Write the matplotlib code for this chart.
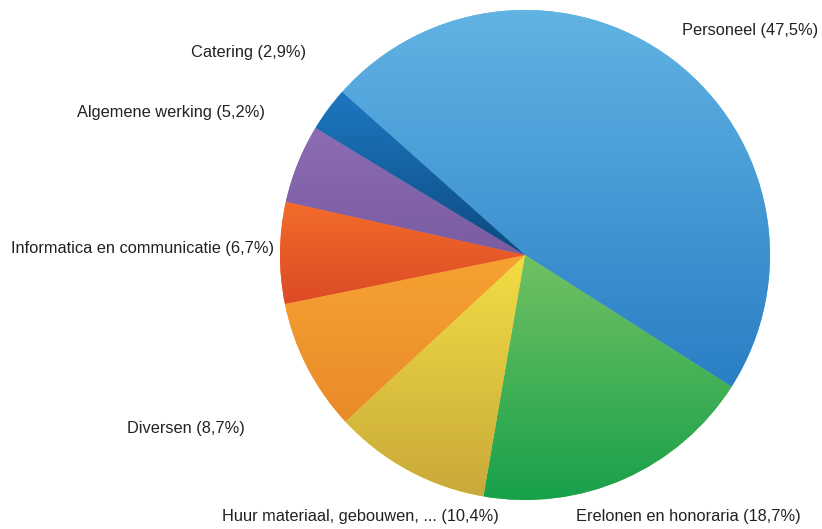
import numpy as np
import matplotlib
matplotlib.use("Agg")
import matplotlib.pyplot as plt
from matplotlib.colors import LinearSegmentedColormap

# --- DATA ---
categories = ["Personeel", "Erelonen en honoraria", "Huur materiaal, gebouwen, ...",
              "Diversen", "Informatica en communicatie", "Algemene werking", "Catering"]
shares = [47.5, 18.7, 10.4, 8.7, 6.7, 5.2, 2.9]
share_labels = ["47,5%", "18,7%", "10,4%", "8,7%", "6,7%", "5,2%", "2,9%"]

# gradient colours per slice (top, bottom)
TOP_COLORS = ["#62b4e4", "#72c163", "#f2de44", "#f6a232", "#f36c2a", "#8c6cb2", "#1e78c0"]
BOTTOM_COLORS = ["#2a7ec4", "#16a04a", "#c9a93a", "#ea8a2a", "#dc4a26", "#7a5ca2", "#0c4a80"]

# --- LAYOUT (pixel coords, y from top) ---
W, H = 822, 529
CENTER = (525, 255)
RADIUS = 245
START_ANGLE = 138.3
label_pos = [(682, 30), (576, 516), (222, 516), (127, 428), (11, 249), (77, 112), (191, 52)]

fig = plt.figure(figsize=(W / 100, H / 100), dpi=100)
ax = fig.add_axes([0, 0, 1, 1])
ax.set_xlim(0, W)
ax.set_ylim(0, H)
ax.set_aspect("equal")
ax.axis("off")

wedges, _ = ax.pie(shares, center=(CENTER[0], H - CENTER[1]), radius=RADIUS,
                   startangle=START_ANGLE, counterclock=False,
                   wedgeprops=dict(linewidth=0, edgecolor="none"))

# fill each wedge with a vertical gradient
for w, c_top, c_bot in zip(wedges, TOP_COLORS, BOTTOM_COLORS):
    verts = w.get_path().vertices
    x0, x1 = verts[:, 0].min(), verts[:, 0].max()
    y0, y1 = verts[:, 1].min(), verts[:, 1].max()
    cmap = LinearSegmentedColormap.from_list("g", [c_bot, c_top])
    grad = np.linspace(0, 1, 256).reshape(-1, 1)
    im = ax.imshow(grad, cmap=cmap, extent=(x0, x1, y0, y1), origin="lower",
                   aspect="auto", zorder=w.get_zorder() + 0.1)
    im.set_clip_path(w)
    w.set_facecolor(c_top)

for cat, lab, (px, py) in zip(categories, share_labels, label_pos):
    ax.text(px, H - py, f"{cat} ({lab})", ha="left", va="center",
            fontsize=11.8, color="#222222", family="Liberation Sans")

ax.set_xlim(0, W)
ax.set_ylim(0, H)
fig.savefig("out.png", dpi=100)
